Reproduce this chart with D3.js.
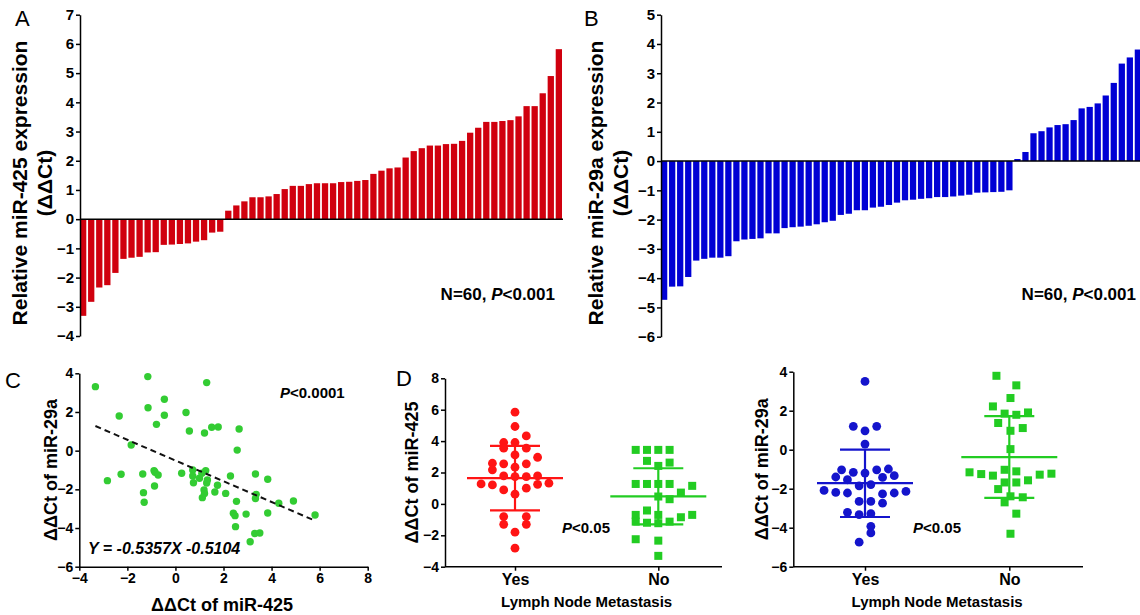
<!DOCTYPE html>
<html>
<head>
<meta charset="utf-8">
<script src="https://cdn.jsdelivr.net/npm/d3@7"></script>
<style>
body { margin: 0; background: #fff; }
svg { display: block; font-family: "Liberation Sans", Arial, sans-serif; }
.tick text { font-weight: bold; fill: #000; }
.tick line, .domain { stroke: #000; stroke-width: 1.5; }
</style>
</head>
<body>
<svg width="1140" height="615"></svg>
<script>
// panel A / B: sorted per-patient values (n = 60)
var mir425 = [-3.31, -2.83, -2.34, -2.26, -1.84, -1.36, -1.32, -1.29, -1.14, -1.13,
  -0.88, -0.87, -0.85, -0.83, -0.77, -0.72, -0.46, -0.43, 0.29, 0.47,
  0.61, 0.75, 0.75, 0.78, 0.86, 1.03, 1.14, 1.14, 1.20, 1.23,
  1.23, 1.23, 1.27, 1.28, 1.31, 1.34, 1.55, 1.66, 1.74, 1.77,
  2.11, 2.33, 2.43, 2.52, 2.52, 2.57, 2.58, 2.68, 2.96, 3.13,
  3.33, 3.33, 3.36, 3.39, 3.52, 3.87, 3.87, 4.31, 4.90, 5.82];
var mir29a = [-4.74, -4.29, -4.28, -3.96, -3.40, -3.34, -3.30, -3.30, -3.25, -2.74,
  -2.68, -2.66, -2.64, -2.47, -2.47, -2.29, -2.26, -2.24, -2.21, -2.16,
  -2.09, -2.04, -1.84, -1.80, -1.68, -1.68, -1.59, -1.56, -1.50, -1.42,
  -1.34, -1.32, -1.29, -1.27, -1.23, -1.23, -1.21, -1.18, -1.15, -1.08,
  -1.07, -1.06, -1.05, -1.00, 0.07, 0.31, 0.95, 1.02, 1.15, 1.23,
  1.26, 1.40, 1.80, 1.85, 1.97, 2.24, 2.67, 3.33, 3.54, 3.81];
var ticksA = d3.range(-4, 8);
var ticksB = d3.range(-6, 6);

// panel C: correlation
var corrX = [-3.33, -2.83, -2.34, -2.26, -1.84, -1.36, -1.33, -1.30, -1.15, -1.14,
  -0.89, -0.87, -0.85, -0.79, -0.72, -0.46, -0.46, 0.26, 0.44, 0.58,
  0.72, 0.72, 0.75, 1.00, 1.10, 1.12, 1.19, 1.21, 1.21, 1.26,
  1.30, 1.30, 1.33, 1.51, 1.75, 1.78, 1.64, 2.09, 2.29, 2.41,
  2.48, 2.50, 2.54, 2.57, 2.65, 2.94, 3.11, 3.30, 3.33, 3.33,
  3.36, 3.51, 3.84, 3.84, 4.30, 4.91, 5.81];
var corrY = [3.31, -1.55, 1.79, -1.22, 0.29, -1.21, -2.17, -2.67, 3.83, 2.22,
  -1.03, -1.83, -1.12, 1.36, -1.26, 2.66, 1.83, -1.17, 1.97, 1.02,
  -1.00, -1.31, -1.66, -1.43, -1.17, -2.43, -2.03, 0.91, -2.21, -1.03,
  -1.67, 3.52, -1.52, 1.21, -1.79, 1.22, -2.14, -2.21, -1.31, -3.24,
  -3.36, -3.93, -2.62, 0.03, 1.12, -3.28, -4.71, -4.28, -1.21, -2.47,
  -2.26, -4.26, -1.48, -3.22, -2.72, -2.60, -3.33];
var fitSlope = -0.5357, fitIntercept = -0.5104;
var fitRange = [-3.33, 5.80];
var ticksCx = [-4, -2, 0, 2, 4, 6, 8];
var ticksCy = [-6, -4, -2, 0, 2, 4];

// panel D: lymph node metastasis groups (value + swarm lane)
var groups = ["Yes", "No"];
var d425Yes = [5.84, 4.93, 4.33, 3.91, 3.91, 3.55, 3.55, 3.12, 2.97, 2.59,
  2.55, 2.55, 2.17, 2.34, 1.78, 1.74, 1.74, 1.78, 1.27, 1.21,
  1.25, 1.32, 0.89, 1.00, 0.62, -0.81, -0.81, -1.30, -1.30, -1.80, -2.82];
var d425YesLane = [0, 0, 1, -1, 0, -1, 1, 0, 2, -2,
  -1, 1, -2, 0, -1, 0, 1, 2, -3, -2,
  2, 3, -1, 1, 0, -1, 1, -1, 1, 0, 0];
var d425No = [3.44, 3.44, 3.44, 3.44, 2.74, 2.63, 2.42, 1.27, 1.27, 1.27,
  1.27, 1.15, 0.72, 0.47, 0.30, -0.42, -0.70, -0.70, -0.70, -0.85,
  -1.13, -1.20, -1.23, -1.13, -2.25, -2.34, -3.31];
var d425NoLane = [-2, -1, 0, 1, -1, 1, 0, -2, -1, 0,
  1, 3, 2, 0, 1, -1, -2, 0, 3, 2,
  -2, -1, 0, 1, -2, 0, 0];
var d29aYes = [3.50, 1.20, 1.20, 0.97, 0.29, -1.03, -1.16, -1.03, -0.99, -1.40,
  -1.54, -1.20, -1.42, -1.33, -1.85, -1.79, -2.09, -2.19, -2.22, -2.27,
  -2.22, -2.14, -2.65, -2.65, -2.74, -3.21, -3.33, -3.28, -3.93, -4.27, -4.74];
var d29aYesLane = [0, -1, 1, 0, 0, -2, -1, 1, 2, -2.5,
  -1.5, 0, 1.5, 2.5, -0.5, 0.5, -3.5, -2.5, -1.5, 1.5,
  2.5, 3.5, -0.5, 0.5, 1.5, -1.5, -0.5, 0.5, 0.5, 0.5, -0.5];
var d29aNo = [3.79, 3.30, 2.65, 2.22, 1.85, 1.79, 1.91, 1.37, 0.97, 1.11,
  0.03, -1.16, -1.25, -1.33, -1.03, -1.11, -1.28, -1.23, -1.68, -1.68,
  -1.57, -2.02, -2.39, -2.44, -2.70, -3.28, -4.31];
var d29aNoLane = [-1.1, 0.6, 0.1, -1.4, -0.4, 0.6, 1.6, -0.95, 0.1, 1.15,
  0.1, -3.4, -2.4, -1.4, -0.4, 0.6, 2.6, 3.6, -0.4, 0.6,
  1.6, -0.95, 0.1, 1.15, -0.4, 0.6, 0.1];
// mean, mean+SD, mean-SD
var d425Stats = [[1.64, 3.69, -0.41], [0.48, 2.27, -1.30]];
var d29aStats = [[-1.71, 0.00, -3.45], [-0.38, 1.72, -2.47]];
var ticksD1 = [-4, -2, 0, 2, 4, 6, 8];
var ticksD2 = [-6, -4, -2, 0, 2, 4];

var svg = d3.select("svg");

function yLabel(x, cy, lines, size, lh) {
  var t = svg.append("text")
    .attr("transform", "translate(" + x + "," + cy + ") rotate(-90)")
    .attr("text-anchor", "middle")
    .style("font-weight", "bold")
    .style("font-size", size + "px");
  lines.forEach(function(l, i) {
    t.append("tspan").attr("x", 0).attr("dy", i == 0 ? 0 : lh).text(l);
  });
  return t;
}

function panelLetter(x, y, s) {
  svg.append("text").attr("x", x).attr("y", y)
    .style("font-size", "22px").text(s);
}

function pText(x, y, size, parts, anchor, italicAll) {
  var t = svg.append("text").attr("x", x).attr("y", y)
    .attr("text-anchor", anchor || "start")
    .style("font-weight", "bold").style("font-size", size + "px");
  if (italicAll) t.style("font-style", "italic");
  parts.forEach(function(p) {
    var s = t.append("tspan").text(p[0]);
    if (p[1]) s.style("font-style", "italic");
  });
}

/* waterfall bar panels (A, B) */
function barPanel(vals, ticks, x0, x1, yTop, yBot, color) {
  var x = d3.scaleBand().domain(d3.range(vals.length)).range([x0, x1]).paddingInner(0.22).paddingOuter(0);
  var y = d3.scaleLinear().domain([ticks[0], ticks[ticks.length - 1]]).range([yBot, yTop]);

  svg.append("g").selectAll("rect")
    .data(vals)
    .enter().append("rect")
    .attr("x", function(d, i) { return x(i); })
    .attr("y", function(d) { return y(Math.max(0, d)); })
    .attr("width", x.bandwidth())
    .attr("height", function(d) { return Math.abs(y(d) - y(0)); })
    .style("fill", color);

  svg.append("line")
    .attr("x1", x0).attr("x2", x1 + 1)
    .attr("y1", y(0)).attr("y2", y(0))
    .style("stroke", "#000").style("stroke-width", 1.5);

  var ax = svg.append("g")
    .attr("transform", "translate(" + x0 + ",0)")
    .call(d3.axisLeft(y).tickValues(ticks).tickFormat(d3.format("d")).tickSize(4).tickSizeOuter(0).tickPadding(2));
  ax.selectAll("text").style("font-size", "15px").style("font-family", "Liberation Sans, Arial, sans-serif");
}

barPanel(mir425, ticksA, 80, 562, 14.7, 336, "#d0000e");
barPanel(mir29a, ticksB, 661, 1141, 14.7, 336.7, "#0000d4");

yLabel(27, 183, ["Relative miR-425 expression", "(\u0394\u0394Ct)"], 21, 25);
yLabel(603, 183, ["Relative miR-29a expression", "(\u0394\u0394Ct)"], 21, 25);
panelLetter(15, 26, "A");
panelLetter(584, 26, "B");
pText(555, 300, 17, [["N=60, "], ["P", true], ["<0.001"]], "end");
pText(1136, 300, 17, [["N=60, "], ["P", true], ["<0.001"]], "end");

/* panel C: scatter with regression */
(function() {
  var x = d3.scaleLinear().domain([-4, 8]).range([79.3, 367.7]);
  var y = d3.scaleLinear().domain([-6, 4]).range([566.7, 373.3]);

  svg.append("g").selectAll("circle")
    .data(corrX)
    .enter().append("circle")
    .attr("cx", function(d) { return x(d); })
    .attr("cy", function(d, i) { return y(corrY[i]); })
    .attr("r", 3.7)
    .style("fill", "#33cc33");

  svg.append("line")
    .attr("x1", x(fitRange[0])).attr("y1", y(fitSlope * fitRange[0] + fitIntercept))
    .attr("x2", x(fitRange[1])).attr("y2", y(fitSlope * fitRange[1] + fitIntercept))
    .style("stroke", "#111").style("stroke-width", 2).style("stroke-dasharray", "6,4");

  var ay = svg.append("g").attr("transform", "translate(79.3,0)")
    .call(d3.axisLeft(y).tickValues(ticksCy).tickSize(4).tickSizeOuter(0).tickPadding(2));
  var ax = svg.append("g").attr("transform", "translate(0,566.7)")
    .call(d3.axisBottom(x).tickValues(ticksCx).tickSize(4).tickSizeOuter(0).tickPadding(2));
  ay.selectAll("text").style("font-size", "14px").style("font-family", "Liberation Sans, Arial, sans-serif");
  ax.selectAll("text").style("font-size", "14px").style("font-family", "Liberation Sans, Arial, sans-serif");

  yLabel(57, 470, ["\u0394\u0394Ct of miR-29a"], 18, 0);
  svg.append("text").attr("x", 222).attr("y", 611).attr("text-anchor", "middle")
    .style("font-weight", "bold").style("font-size", "18px").text("\u0394\u0394Ct of miR-425");
  pText(280, 398, 15, [["P", true], ["<0.0001"]]);
  pText(88, 554, 16, [["Y = -0.5357X -0.5104"]], "start", true);
  panelLetter(5, 388, "C");
})();

/* panel D: dot plots with mean +/- SD */
function dotPanel(sets, stats, ticks, xl, xr, xYes, xNo, yTop, yBot, colors, shapes, laneW, label, labelX, pX) {
  var y = d3.scaleLinear().domain([ticks[0], ticks[ticks.length - 1]]).range([yBot, yTop]);
  var x = d3.scalePoint().domain(groups).range([xYes, xNo]);
  var lane = d3.scaleLinear().domain([0, 1]).range([0, laneW]);

  sets.forEach(function(s, gi) {
    var cx = x(groups[gi]);
    var g = svg.append("g");
    if (shapes[gi] == "circle") {
      g.selectAll("circle").data(s.vals).enter().append("circle")
        .attr("cx", function(d, i) { return cx + lane(s.lanes[i]); })
        .attr("cy", function(d) { return y(d); })
        .attr("r", 4.4)
        .style("fill", colors[gi]);
    } else {
      g.selectAll("rect").data(s.vals).enter().append("rect")
        .attr("x", function(d, i) { return cx + lane(s.lanes[i]) - 4; })
        .attr("y", function(d) { return y(d) - 4; })
        .attr("width", 8).attr("height", 8)
        .style("fill", colors[gi]);
    }
    var st = stats[gi];
    var lg = svg.append("g").style("stroke", colors[gi]).style("stroke-width", 2.2);
    lg.append("line").attr("x1", cx - 48).attr("x2", cx + 48).attr("y1", y(st[0])).attr("y2", y(st[0]));
    lg.append("line").attr("x1", cx - 25).attr("x2", cx + 25).attr("y1", y(st[1])).attr("y2", y(st[1]));
    lg.append("line").attr("x1", cx - 25).attr("x2", cx + 25).attr("y1", y(st[2])).attr("y2", y(st[2]));
    lg.append("line").attr("x1", cx).attr("x2", cx).attr("y1", y(st[1])).attr("y2", y(st[2]));
  });

  var ay = svg.append("g").attr("transform", "translate(" + xl + ",0)")
    .call(d3.axisLeft(y).tickValues(ticks).tickSize(4).tickSizeOuter(0).tickPadding(2));
  ay.selectAll("text").style("font-size", "14px").style("font-family", "Liberation Sans, Arial, sans-serif");

  svg.append("line").attr("x1", xl).attr("x2", xr).attr("y1", yBot).attr("y2", yBot)
    .style("stroke", "#000").style("stroke-width", 1.5);
  var ax = svg.append("g").attr("transform", "translate(0," + yBot + ")")
    .call(d3.axisBottom(x).tickSize(4).tickSizeOuter(0).tickPadding(3));
  ax.select(".domain").remove();
  ax.selectAll("text").style("font-size", "16px").style("font-family", "Liberation Sans, Arial, sans-serif");

  svg.append("text").attr("x", (xYes + xNo) / 2).attr("y", 607).attr("text-anchor", "middle")
    .style("font-weight", "bold").style("font-size", "15px").text("Lymph Node Metastasis");
  yLabel(labelX, (yTop + yBot) / 2, [label], 18, 0);
  pText(pX, 533, 15, [["P", true], ["<0.05"]]);
}

dotPanel([{vals: d425Yes, lanes: d425YesLane}, {vals: d425No, lanes: d425NoLane}],
  d425Stats, ticksD1, 445, 722, 515, 658.3, 378.3, 566.7,
  ["#ff1414", "#22cc22"], ["circle", "square"], 11.3, "\u0394\u0394Ct of miR-425", 418, 562);
dotPanel([{vals: d29aYes, lanes: d29aYesLane}, {vals: d29aNo, lanes: d29aNoLane}],
  d29aStats, ticksD2, 793.3, 1083, 865, 1009.3, 371.7, 566.7,
  ["#1414cc", "#22cc22"], ["circle", "square"], 11.7, "\u0394\u0394Ct of miR-29a", 768, 913);
panelLetter(396, 386, "D");
</script>
</body>
</html>
